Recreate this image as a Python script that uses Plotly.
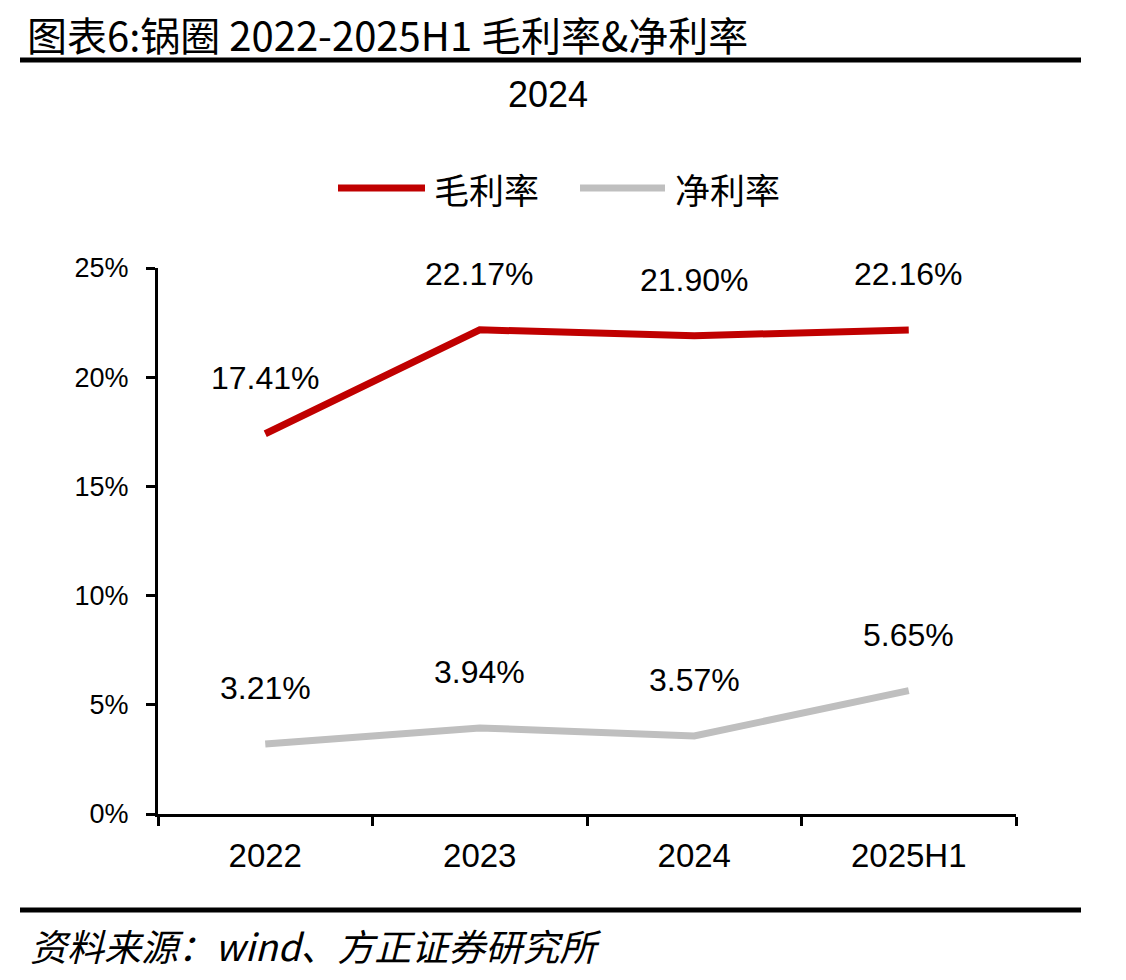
import plotly.graph_objects as go

categories = ["2022", "2023", "2024", "2025H1"]
gross_margin = [17.41, 22.17, 21.90, 22.16]
net_margin = [3.21, 3.94, 3.57, 5.65]
series_names = ["毛利率", "净利率"]
series_colors = ["#C00000", "#BFBFBF"]
y_ticks = [0, 5, 10, 15, 20, 25]
y_tick_labels = ["0%", "5%", "10%", "15%", "20%", "25%"]

W, H = 1126, 980
L, R, T, B = 158, 1016, 268, 814

def px_x(x):
    return (x - L) / (R - L)

def px_y(y):
    return (B - y) / (B - T)

CJK = "Noto Sans CJK SC"
NUM = "Liberation Sans, Arial"

fig = go.Figure()
for name, vals, col in zip(series_names, [gross_margin, net_margin], series_colors):
    fig.add_trace(go.Scatter(
        x=categories, y=vals, mode="lines", name=name,
        line=dict(color=col, width=7), showlegend=False, hoverinfo="skip"))
    for i, v in enumerate(vals):
        fig.add_annotation(x=i, y=v, xref="x", yref="y", text=f"{v:.2f}%",
                           showarrow=False, yshift=56,
                           font=dict(family=NUM, size=32, color="#000"))

# Custom legend (long line samples)
legend_items = [(338, 425, 432), (580, 665, 673)]
for (x0, x1, tx), name, col in zip(legend_items, series_names, series_colors):
    fig.add_shape(type="line", xref="paper", yref="paper",
                  x0=px_x(x0), x1=px_x(x1), y0=px_y(188), y1=px_y(188),
                  line=dict(color=col, width=7))
    fig.add_annotation(xref="paper", yref="paper", x=px_x(tx), y=px_y(188),
                       xanchor="left", yanchor="middle", showarrow=False,
                       text=name, font=dict(family=CJK, size=35, color="#000"))

# Title, subtitle, rules, footer
fig.add_annotation(xref="paper", yref="paper", x=px_x(25), y=px_y(3),
                   xanchor="left", yanchor="top", showarrow=False,
                   text="图表6:锅圈 2022-2025H1 毛利率&净利率",
                   font=dict(family=CJK, size=40, color="#000"))
fig.add_shape(type="line", xref="paper", yref="paper",
              x0=px_x(20), x1=px_x(1081), y0=px_y(60), y1=px_y(60),
              line=dict(color="#000", width=5))
fig.add_annotation(xref="paper", yref="paper", x=px_x(548), y=px_y(94),
                   xanchor="center", yanchor="middle", showarrow=False,
                   text="2024", font=dict(family=NUM, size=36, color="#000"))
fig.add_shape(type="line", xref="paper", yref="paper",
              x0=px_x(20), x1=px_x(1081), y0=px_y(910), y1=px_y(910),
              line=dict(color="#000", width=5))
fig.add_annotation(xref="paper", yref="paper", x=px_x(28), y=px_y(945),
                   xanchor="left", yanchor="middle", showarrow=False,
                   text="<i>资料来源：wind、方正证券研究所</i>",
                   font=dict(family=CJK, size=37, color="#000"))

fig.update_layout(
    width=W, height=H,
    margin=dict(l=L, r=W - R, t=T, b=H - B, pad=0),
    paper_bgcolor="white", plot_bgcolor="white",
    showlegend=False,
    xaxis=dict(type="category", range=[-0.5, 3.5], tickson="boundaries",
               showline=True, linecolor="#000", linewidth=3,
               ticks="outside", ticklen=9, tickwidth=3, tickcolor="#000",
               showgrid=False, zeroline=False, ticklabelstandoff=10,
               tickfont=dict(family=NUM, size=33, color="#000")),
    yaxis=dict(range=[0, 25], tickvals=y_ticks, ticktext=y_tick_labels,
               showline=True, linecolor="#000", linewidth=3,
               ticks="outside", ticklen=9, tickwidth=3, tickcolor="#000",
               showgrid=False, zeroline=False, ticklabelstandoff=12,
               tickfont=dict(family=NUM, size=27, color="#000")),
)

fig.write_html("out.html")
